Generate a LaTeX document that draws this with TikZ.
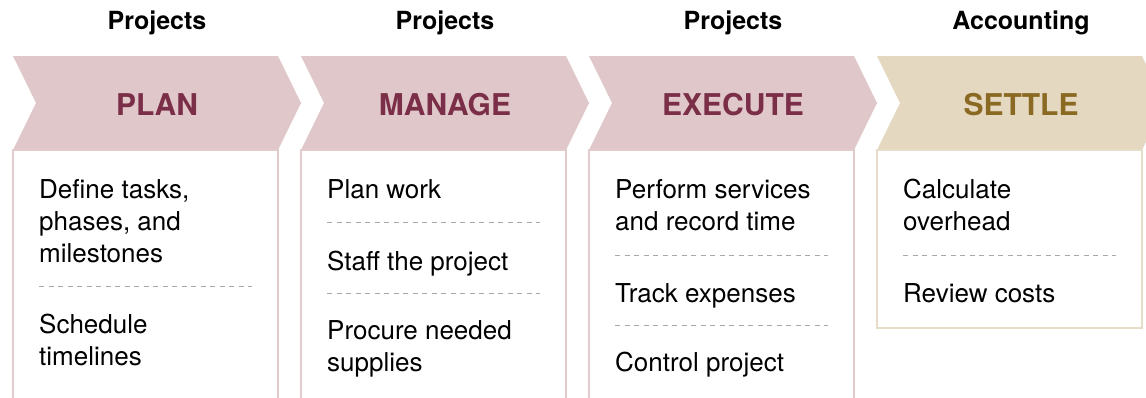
\documentclass[tikz,border=0pt]{standalone}
\usepackage{fontspec}
\setmainfont{TeX Gyre Heros}
\usetikzlibrary{positioning}
\definecolor{planfill}{HTML}{E0C7C9}
\definecolor{plantext}{HTML}{7A2E47}
\definecolor{planline}{HTML}{E3CACC}
\definecolor{settlefill}{HTML}{E4D8C1}
\definecolor{settletext}{HTML}{8A6A22}
\definecolor{settleline}{HTML}{E6DDC9}
\definecolor{sepgray}{HTML}{A9A9A9}
\tikzset{
  head/.style={anchor=base, font=\fontsize{25}{30}\selectfont\bfseries},
  title/.style={anchor=base, font=\fontsize{30}{36}\selectfont\bfseries},
  item/.style={anchor=base west, align=left, inner sep=0pt, font=\fontsize{26}{32}\selectfont},
  sep/.style={sepgray, line width=1pt, dash pattern=on 5pt off 4.5pt}
}
\begin{document}
\begin{tikzpicture}[x=1pt, y=-1pt]
  \clip (0,0) rectangle (1146,397);
  \foreach \i/\head/\title/\fc/\tc/\lc/\bot in {1/Projects/PLAN/planfill/plantext/planline/420,
      2/Projects/MANAGE/planfill/plantext/planline/420,
      3/Projects/EXECUTE/planfill/plantext/planline/420,
      4/Accounting/SETTLE/settlefill/settletext/settleline/328} {
    \pgfmathsetmacro{\x}{13+(\i-1)*288}
    \fill[\fc] (\x,56) -- ++(265,0) -- ++(23,47) -- ++(-23,47) -- ++(-265,0) -- ++(23,-47) -- cycle;
    \draw[\lc, line width=2pt] (\x,150) rectangle (\x+265,\bot);
    \node[head] (Head\i) at (\x+144,29) {\head};
    \node[title, text=\tc] (Title\i) at (\x+144,115) {\title};
  }

  \node[item] (Define) at (39,262) {Define tasks,\\phases, and\\milestones};
  \draw[sep] (39,286) -- (252,286);
  \node[item] (Schedule) at (39,365) {Schedule\\timelines};

  \node[item] (PlanWork) at (327,198) {Plan work};
  \draw[sep] (327,222) -- (540,222);
  \node[item] (Staff) at (327,270) {Staff the project};
  \draw[sep] (327,293) -- (540,293);
  \node[item] (Procure) at (327,371) {Procure needed\\supplies};

  \node[item] (Perform) at (615,230) {Perform services\\and record time};
  \draw[sep] (615,255) -- (828,255);
  \node[item] (Track) at (615,302) {Track expenses};
  \draw[sep] (615,325) -- (828,325);
  \node[item] (Control) at (615,371) {Control project};

  \node[item] (Calculate) at (903,230) {Calculate\\overhead};
  \draw[sep] (903,255) -- (1116,255);
  \node[item] (Review) at (903,302) {Review costs};
\end{tikzpicture}
\end{document}
